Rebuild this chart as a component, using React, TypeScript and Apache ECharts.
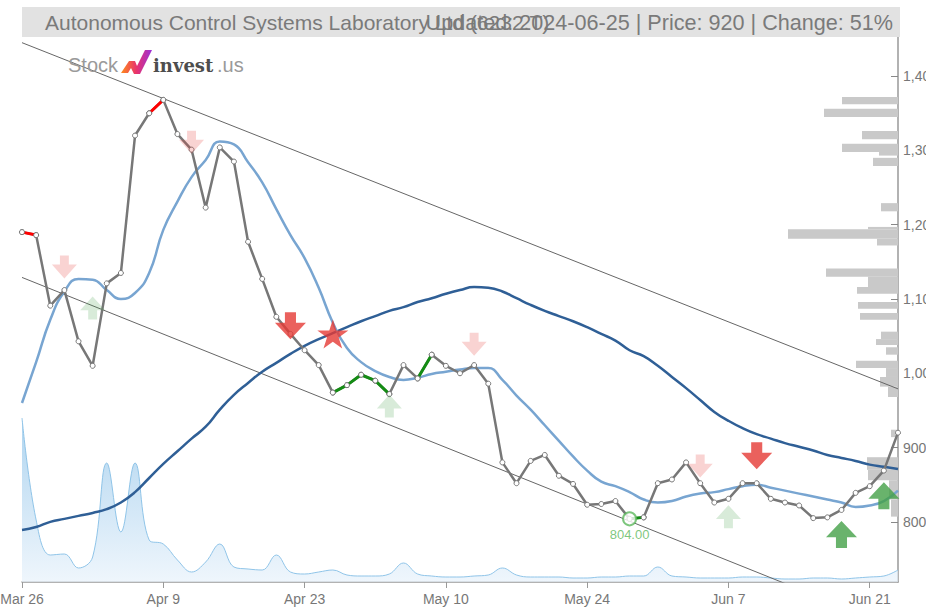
import React, { useEffect, useRef } from 'react';
import * as echarts from 'echarts';

const dates = [
  'Mar 26','Mar 27','Mar 28','Mar 29','Apr 1','Apr 2','Apr 3','Apr 4','Apr 5','Apr 8',
  'Apr 9','Apr 10','Apr 11','Apr 12','Apr 15','Apr 16','Apr 17','Apr 18','Apr 19','Apr 22',
  'Apr 23','Apr 24','Apr 25','Apr 26','Apr 30','May 1','May 2','May 7','May 8','May 9',
  'May 10','May 13','May 14','May 15','May 16','May 17','May 20','May 21','May 22','May 23',
  'May 24','May 27','May 28','May 29','May 30','May 31','Jun 3','Jun 4','Jun 5','Jun 6',
  'Jun 7','Jun 10','Jun 11','Jun 12','Jun 13','Jun 14','Jun 17','Jun 18','Jun 19','Jun 20',
  'Jun 21','Jun 24','Jun 25'
];

const closePrice = [
  1190, 1186, 1091, 1112, 1043, 1010, 1121, 1135, 1320, 1350,
  1368, 1322, 1301, 1223, 1304, 1285, 1177, 1127, 1076, 1053,
  1031, 1011, 974, 984, 998, 990, 972, 1011, 993, 1025,
  1010, 1000, 1011, 986, 880, 852, 882, 890, 862, 851,
  823, 824, 828, 804, 806, 852, 857, 880, 852, 826,
  831, 852, 852, 831, 826, 822, 805, 806, 816, 839,
  848, 869, 920
];

const maShort = [
  960, 1015, 1072, 1110, 1127, 1126, 1112, 1100, 1108, 1135,
  1193, 1231, 1264, 1287, 1312, 1308, 1284, 1257, 1221, 1186,
  1155, 1115, 1068, 1034, 1015, 1003, 995, 991, 994, 999,
  1002, 1005, 1007, 1007, 991, 970, 951, 930, 909, 888,
  869, 854, 848, 840, 830, 826, 828, 834, 838, 840,
  844, 848, 850, 846, 842, 838, 834, 830, 826, 820,
  822, 828, 842
];

const maLong = [
  789, 793, 800, 804, 808, 812, 817, 826, 840, 859,
  878, 895, 912, 928, 951, 971, 987, 1002, 1014, 1026,
  1037, 1046, 1054, 1062, 1070, 1077, 1084, 1089, 1096, 1101,
  1107, 1112, 1116, 1115, 1110, 1101, 1092, 1084, 1077, 1070,
  1062, 1053, 1044, 1031, 1023, 1010, 995, 980, 964, 948,
  936, 926, 918, 912, 906, 901, 896, 890, 886, 882,
  877, 874, 871
];

const volume = [
  164, 62, 27, 28, 14, 25, 119, 50, 119, 42,
  38, 22, 10, 20, 38, 15, 13, 12, 27, 10,
  8, 10, 12, 7, 6, 6, 8, 19, 8, 6,
  5, 5, 6, 7, 14, 7, 5, 5, 5, 4,
  4, 5, 5, 6, 6, 15, 6, 5, 4, 4,
  4, 5, 5, 4, 3, 3, 4, 4, 3, 4,
  5, 6, 12
];

// [low price, high price, volume]
const volumeProfile = [
  [1362, 1372, 56], [1345, 1356, 74], [1315, 1326, 36], [1298, 1309, 56],
  [1293, 1298, 19], [1279, 1290, 25], [1218, 1229, 17], [1194, 1197, 30],
  [1181, 1194, 110], [1172, 1181, 21], [1130, 1141, 72], [1116, 1130, 30],
  [1107, 1116, 41], [1087, 1096, 40], [1072, 1081, 38], [1046, 1056, 17],
  [1038, 1046, 22], [1025, 1035, 12], [1007, 1017, 42], [995, 1007, 12],
  [982, 995, 18], [968, 982, 10], [914, 924, 7], [870, 887, 31],
  [856, 870, 30], [830, 856, 9], [807, 830, 7]
];

const channelUpper = [[0, 1445], [62, 979]];
const channelLower = [[0, 1129], [62, 656]];

const weakSell = [[3, 1143], [12, 1311], [32, 1039], [48, 875]];
const weakBuy = [[5, 1088], [26, 956], [50, 807]];
const strongSell = [[19, 1064], [52, 889]];
const strongBuy = [[58, 783], [61, 835]];
const starSignal = [[22, 1053]];
const redSegments = [[0, 1], [9, 10]];
const greenSegments = [[22, 26], [28, 29], [43, 44]];
const minPoint = [[43, 804]];

const yTicks = [800, 900, 1000, 1100, 1200, 1300, 1400];

const titleLeft = 'Autonomous Control Systems Laboratory Ltd (6232.T)';
const titleRight = 'Updated: 2024-06-25 | Price: 920 | Change: 51%';

const DOWN = 'path://M9,0 L19,0 L19,11 L28,11 L14,28 L0,11 L9,11 Z';
const UP = 'path://M14,0 L28,17 L19,17 L19,28 L9,28 L9,17 L0,17 Z';
const STAR = 'path://M50,0 L61,35 L98,35 L68,57 L79,91 L50,70 L21,91 L32,57 L2,35 L39,35 Z';

function segmentData(segs: number[][]) {
  return closePrice.map((v, i) => (segs.some(([a, b]) => i >= a && i <= b) ? v : null));
}

const FONT = 'Liberation Sans, Arial, sans-serif';

function buildOption() {
  const pointStyle = { color: '#fff', borderColor: '#777', borderWidth: 1 };
  const marker = (name: string, data: number[][], symbol: string, size: number[], color: string) => ({
    name, type: 'scatter', data, symbol, symbolSize: size, symbolKeepAspect: false,
    itemStyle: { color }, z: 10, silent: true,
  });
  return {
    animation: false,
    backgroundColor: '#fff',
    grid: [{ left: 22, right: 28, top: 36, bottom: 28, containLabel: false, outerBoundsMode: 'none' }],
    xAxis: [
      {
        type: 'category', data: dates, boundaryGap: false,
        axisLine: { lineStyle: { color: '#999', width: 1.5 } },
        axisTick: { interval: 9, length: 6, lineStyle: { color: '#999' } },
        axisLabel: { interval: 9, color: '#777', fontSize: 14, fontFamily: FONT, margin: 10 },
        splitLine: { show: false },
      },
      { type: 'value', gridIndex: 0, min: 0, max: 876, inverse: true, show: false },
    ],
    yAxis: [
      {
        type: 'value', position: 'right', min: 719, max: 1454, scale: true,
        axisLine: { show: true, lineStyle: { color: '#999', width: 1.5 } },
        axisTick: { show: true, inside: true, length: 7, customValues: yTicks, lineStyle: { color: '#888' } },
        axisLabel: {
          customValues: yTicks, color: '#777', fontSize: 14, fontFamily: FONT, margin: 5,
          formatter: (v: number) => v.toLocaleString('en-US'),
        },
        splitLine: { show: false },
      },
      { type: 'value', min: 0, max: 546, show: false },
    ],
    graphic: [
      { type: 'rect', shape: { x: 22, y: 7, width: 878, height: 30 }, style: { fill: '#e2e2e2' }, z: 20 },
      { type: 'text', x: 45, y: 22, style: { text: titleLeft, font: `21px ${FONT}`, fill: '#7a7a7a', verticalAlign: 'middle' }, z: 21 },
      { type: 'text', x: 893, y: 22, style: { text: titleRight, font: `21.6px ${FONT}`, fill: '#7a7a7a', align: 'right', verticalAlign: 'middle' }, z: 21 },
      { type: 'text', x: 68, y: 65, style: { text: 'Stock', font: `20px ${FONT}`, fill: '#9a9a9a', verticalAlign: 'middle' }, z: 21 },
      {
        type: 'polygon', z: 21,
        shape: { points: [[121, 73], [129, 61], [135, 61], [137, 66], [145, 50], [152, 50], [140, 74], [134, 74], [131, 68], [128, 73]] },
        style: {
          fill: new echarts.graphic.LinearGradient(0, 0, 1, 0, [
            { offset: 0, color: '#ff8c1a' }, { offset: 0.5, color: '#e8336d' }, { offset: 1, color: '#9b30d9' },
          ]),
        },
      },
      { type: 'text', x: 153, y: 65, style: { text: 'invest', font: `bold 18px DejaVu Serif`, fill: '#4d4d4d', verticalAlign: 'middle' }, z: 21 },
      { type: 'text', x: 217, y: 65, style: { text: '.us', font: `20px ${FONT}`, fill: '#9a9a9a', verticalAlign: 'middle' }, z: 21 },
    ],
    series: [
      {
        name: 'Volume', type: 'line', xAxisIndex: 0, yAxisIndex: 1, data: volume,
        smooth: 0.4, symbol: 'none', z: 1,
        lineStyle: { color: '#8fc4e8', width: 1 },
        areaStyle: {
          color: new echarts.graphic.LinearGradient(0, 0, 0, 1, [
            { offset: 0, color: '#8ec3e9' }, { offset: 1, color: '#e8f2fb' },
          ]),
        },
      },
      {
        name: 'Volume profile', type: 'custom', xAxisIndex: 1, yAxisIndex: 0, z: 2,
        data: volumeProfile, encode: { x: 2, y: [0, 1] },
        renderItem: (_p: any, api: any) => {
          const low = api.value(0), high = api.value(1), vol = api.value(2);
          const a = api.coord([0, high]);
          const b = api.coord([vol, low]);
          return {
            type: 'rect',
            shape: { x: Math.min(a[0], b[0]), y: a[1], width: Math.abs(a[0] - b[0]), height: b[1] - a[1] },
            style: { fill: '#c9c9c9' },
          };
        },
      },
      { name: 'Upper', type: 'line', data: channelUpper, symbol: 'none', lineStyle: { color: '#666', width: 1 }, z: 3, clip: true },
      { name: 'Lower', type: 'line', data: channelLower, symbol: 'none', lineStyle: { color: '#666', width: 1 }, z: 3, clip: true },
      { name: 'MA long', type: 'line', data: maLong, smooth: true, symbol: 'none', lineStyle: { color: '#2f5f96', width: 2.5 }, z: 4 },
      { name: 'MA short', type: 'line', data: maShort, smooth: true, symbol: 'none', lineStyle: { color: '#78a5d1', width: 2.5 }, z: 4 },
      {
        name: 'Close', type: 'line', data: closePrice, symbol: 'circle', symbolSize: 5,
        lineStyle: { color: '#777', width: 2.5 }, itemStyle: pointStyle, z: 6,
      },
      {
        name: 'Red', type: 'line', data: segmentData(redSegments), symbol: 'circle', symbolSize: 5,
        lineStyle: { color: '#ff0000', width: 3 }, itemStyle: pointStyle, z: 7, connectNulls: false,
      },
      {
        name: 'Green', type: 'line', data: segmentData(greenSegments), symbol: 'circle', symbolSize: 5,
        lineStyle: { color: '#148c14', width: 3 }, itemStyle: pointStyle, z: 7, connectNulls: false,
      },
      marker('Weak sell', weakSell, DOWN, [25, 23], 'rgba(229,57,53,0.28)'),
      marker('Weak buy', weakBuy, UP, [25, 23], 'rgba(67,160,71,0.26)'),
      marker('Strong sell', strongSell, DOWN, [31, 27], '#e53935'),
      marker('Strong buy', strongBuy, UP, [31, 27], '#43a047'),
      marker('Star', starSignal, STAR, [31, 29], '#e53935'),
      {
        name: 'Min', type: 'scatter', data: minPoint, symbol: 'emptyCircle', symbolSize: 13, z: 11,
        itemStyle: { color: '#5cb85c', borderColor: '#5cb85c', borderWidth: 1 },
        label: {
          show: true, position: 'bottom', distance: 2, color: '#5cb85c', fontSize: 13, fontFamily: FONT,
          formatter: (p: any) => p.value[1].toFixed(2),
        },
      },
    ],
  };
}

export default function App() {
  const ref = useRef<HTMLDivElement>(null);
  useEffect(() => {
    if (!ref.current) return;
    const chart = echarts.init(ref.current, null, { renderer: 'svg' });
    chart.setOption(buildOption() as any);
    return () => chart.dispose();
  }, []);
  return (
    <div
      ref={ref}
      style={{ position: 'fixed', left: 0, top: 0, width: 926, height: 610, background: '#fff' }}
    />
  );
}
